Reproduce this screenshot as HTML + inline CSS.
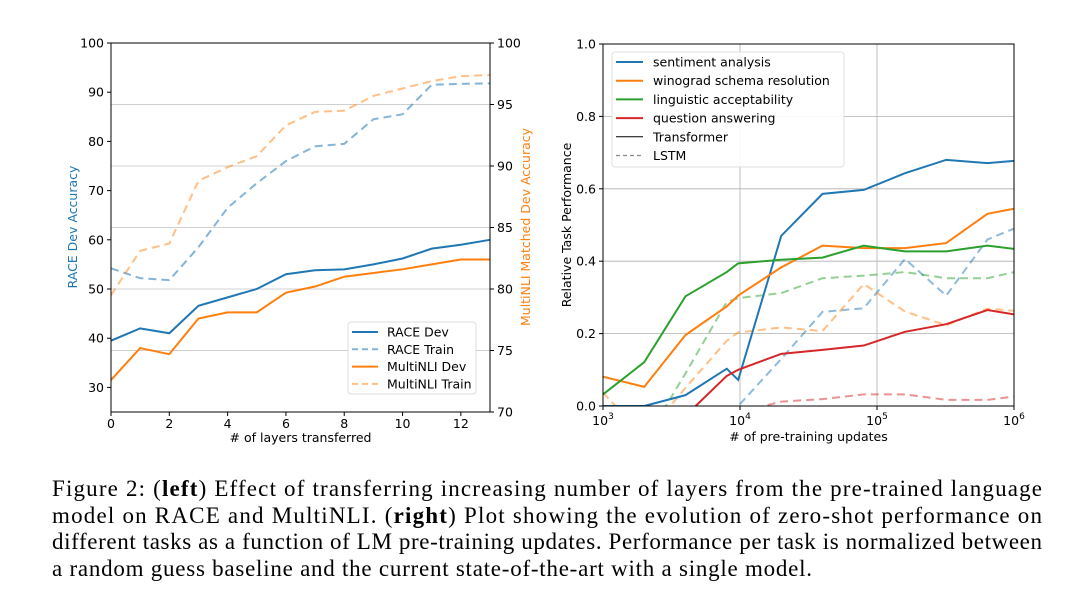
<!DOCTYPE html>
<html><head><meta charset="utf-8"><style>
body{margin:0;background:#fff;}
svg text{font-family:"DejaVu Sans","Liberation Sans",sans-serif;}
.cap{font-family:"Liberation Serif",serif !important;font-size:23px;fill:#000;}
</style></head><body>
<svg id="fig" width="1074" height="596" xmlns="http://www.w3.org/2000/svg">
<g id="left"></g>
<g id="right"></g>
<g>
<text class="cap" x="52" y="496" textLength="990" lengthAdjust="spacing">Figure 2: (<tspan font-weight="bold">left</tspan>) Effect of transferring increasing number of layers from the pre-trained language</text>
<text class="cap" x="52" y="523" textLength="990" lengthAdjust="spacing">model on RACE and MultiNLI. (<tspan font-weight="bold">right</tspan>) Plot showing the evolution of zero-shot performance on</text>
<text class="cap" x="52" y="549" textLength="990" lengthAdjust="spacing">different tasks as a function of LM pre-training updates. Performance per task is normalized between</text>
<text class="cap" x="52" y="576" textLength="760" lengthAdjust="spacing">a random guess baseline and the current state-of-the-art with a single model.</text>
</g>
</svg>
<script>
// ---- left chart data ----
const layers = [0,1,2,3,4,5,6,7,8,9,10,11,12,13];
const raceDev = [39.5,42,41,46.6,48.3,50,53,53.8,54,55,56.2,58.2,59,60];
const raceTrain = [54.2,52.2,51.8,58.5,66.5,71.5,76,79,79.5,84.5,85.5,91.5,91.7,91.8];
const mnliDev = [72.6,75.2,74.7,77.6,78.1,78.1,79.7,80.2,81.0,81.3,81.6,82.0,82.4,82.4];
const mnliTrain = [79.5,83.1,83.7,88.8,89.9,90.8,93.3,94.4,94.5,95.7,96.3,96.9,97.3,97.4];
const leftTicksL = [30,40,50,60,70,80,90,100];
const leftTicksR = [70,75,80,85,90,95,100];
const leftTicksX = [0,2,4,6,8,10,12];
// ---- right chart data ----
const updates = [1000,2000,4000,8000,9700,20000,40000,80000,160000,320000,640000,1000000];
const sentT = [0,0,0.03,0.103,0.072,0.47,0.586,0.597,0.643,0.68,0.671,0.677];
const winoT = [0.081,0.053,0.196,0.275,0.305,0.383,0.443,0.436,0.436,0.45,0.531,0.545];
const lingT = [0.032,0.121,0.303,0.37,0.394,0.404,0.41,0.443,0.427,0.427,0.443,0.434];
const qaT = [-0.1,-0.06,-0.027,0.083,0.1,0.144,0.155,0.167,0.205,0.226,0.265,0.253];
const sentL = [-0.3,-0.25,-0.2,-0.05,0,0.13,0.26,0.27,0.406,0.305,0.46,0.49];
const winoL = [0.037,-0.085,0.05,0.18,0.203,0.217,0.207,0.337,0.261,0.223,0.269,0.263];
const lingL = [-0.2,-0.1,0.09,0.287,0.298,0.312,0.353,0.36,0.37,0.353,0.353,0.37];
const qaL = [-0.1,-0.08,-0.06,-0.03,-0.0175,0.012,0.019,0.032,0.032,0.017,0.017,0.026];
const rightTicksY = [0,0.2,0.4,0.6,0.8,1.0];
const rightTicksX = [3,4,5,6];

const NS='http://www.w3.org/2000/svg';
function mk(parent,tag,attrs,txt){const e=document.createElementNS(NS,tag);for(const k in attrs)e.setAttribute(k,attrs[k]);if(txt!==undefined)e.textContent=txt;parent.appendChild(e);return e;}

// left chart
(function(){
const g=document.getElementById('left');
const X0=111,X1=490,Y0=412,Y1=43;
const xs=v=>X0+(v-0)/(13-0)*(X1-X0);
const yl=v=>Y0-(v-25)/(100-25)*(Y0-Y1);
const yr=v=>Y0-(v-70)/(100-70)*(Y0-Y1);
leftTicksR.forEach(t=>{if(t>70&&t<100){const l=mk(g,'line',{x1:X0,x2:X1,y1:yr(t),y2:yr(t),stroke:'#d0d0d0','stroke-width':1});

}});
function series(vals,ys,color,dash,op,name){const p=mk(g,'polyline',{points:vals.map((v,i)=>xs(layers[i])+','+ys(v)).join(' '),fill:'none',stroke:color,'stroke-width':2,'stroke-dasharray':dash,opacity:op});

}
series(raceTrain,yl,'#1f77b4','8,5',0.55,'race-train-line');
series(mnliTrain,yr,'#ff7f0e','8,5',0.5,'multinli-train-line');
series(raceDev,yl,'#1f77b4','',1,'race-dev-line');
series(mnliDev,yr,'#ff7f0e','',1,'multinli-dev-line');
mk(g,'rect',{x:X0,y:Y1,width:X1-X0,height:Y0-Y1,fill:'none',stroke:'#000','stroke-width':1});
leftTicksL.forEach(t=>{mk(g,'line',{x1:X0-4,x2:X0,y1:yl(t),y2:yl(t),stroke:'#000'});const e=mk(g,'text',{x:X0-7,y:yl(t)+4.5,'text-anchor':'end','font-size':12.5},t);

});
leftTicksR.forEach(t=>{mk(g,'line',{x1:X1,x2:X1+4,y1:yr(t),y2:yr(t),stroke:'#000'});const e=mk(g,'text',{x:X1+7,y:yr(t)+4.5,'font-size':12.5},t);

});
leftTicksX.forEach(t=>{mk(g,'line',{x1:xs(t),x2:xs(t),y1:Y0,y2:Y0+4,stroke:'#000'});const e=mk(g,'text',{x:xs(t),y:Y0+16,'text-anchor':'middle','font-size':12.5},t);

});
let e=mk(g,'text',{x:(X0+X1)/2,y:442,'text-anchor':'middle','font-size':12.5},'# of layers transferred');


e=mk(g,'text',{x:0,y:0,'text-anchor':'middle','font-size':12.5,fill:'#1f77b4',transform:'translate(77,227) rotate(-90)'},'RACE Dev Accuracy');


e=mk(g,'text',{x:0,y:0,'text-anchor':'middle','font-size':12.5,fill:'#ff7f0e',transform:'translate(530,227) rotate(-90)'},'MultiNLI Matched Dev Accuracy');


const lg=mk(g,'g',{});


mk(lg,'rect',{x:348,y:322,width:128,height:72,rx:3,fill:'#fff',stroke:'#ddd'});
[['RACE Dev','#1f77b4','',1],['RACE Train','#1f77b4','6,4',0.55],['MultiNLI Dev','#ff7f0e','',1],['MultiNLI Train','#ff7f0e','6,4',0.5]].forEach((d,i)=>{const y=332+i*17.3;
mk(lg,'line',{x1:352,x2:378,y1:y,y2:y,stroke:d[1],'stroke-width':2,'stroke-dasharray':d[2],opacity:d[3]});
const t=mk(lg,'text',{x:387,y:y+4.5,'font-size':12.5},d[0]);

});
})();

// right chart
(function(){
const g=document.getElementById('right');
const X0=603,X1=1014,Y0=406,Y1=44;
const xs=v=>X0+(Math.log10(v)-3)/3*(X1-X0);
const ys=v=>Y0-v*(Y0-Y1);
mk(g,'defs',{}).innerHTML='<clipPath id="rc"><rect x="'+X0+'" y="'+Y1+'" width="'+(X1-X0)+'" height="'+(Y0-Y1)+'"/></clipPath>';
rightTicksY.forEach(t=>{const l=mk(g,'line',{x1:X0,x2:X1,y1:ys(t),y2:ys(t),stroke:'#b0b0b0','stroke-width':0.8});

});
rightTicksX.forEach(t=>{const l=mk(g,'line',{x1:xs(Math.pow(10,t)),x2:xs(Math.pow(10,t)),y1:Y0,y2:Y1,stroke:'#b0b0b0','stroke-width':0.8});

});
const cg=mk(g,'g',{'clip-path':'url(#rc)'});
function series(vals,color,dash,op,name){const p=mk(cg,'polyline',{points:vals.map((v,i)=>xs(updates[i])+','+ys(v)).join(' '),fill:'none',stroke:color,'stroke-width':2,'stroke-dasharray':dash,opacity:op});

}
series(sentL,'#1f77b4','8,5',0.5,'sentiment-lstm-line');
series(winoL,'#ff7f0e','8,5',0.5,'winograd-lstm-line');
series(lingL,'#2ca02c','8,5',0.5,'linguistic-lstm-line');
series(qaL,'#d62728','8,5',0.5,'qa-lstm-line');
series(sentT,'#1f77b4','',1,'sentiment-transformer-line');
series(winoT,'#ff7f0e','',1,'winograd-transformer-line');
series(lingT,'#2ca02c','',1,'linguistic-transformer-line');
series(qaT,'#d62728','',1,'qa-transformer-line');
mk(g,'rect',{x:X0,y:Y1,width:X1-X0,height:Y0-Y1,fill:'none',stroke:'#000','stroke-width':1});
rightTicksY.forEach(t=>{mk(g,'line',{x1:X0-4,x2:X0,y1:ys(t),y2:ys(t),stroke:'#000'});const e=mk(g,'text',{x:X0-7,y:ys(t)+4.5,'text-anchor':'end','font-size':12.5},t.toFixed(1));

});
rightTicksX.forEach(t=>{const x=xs(Math.pow(10,t));mk(g,'line',{x1:x,x2:x,y1:Y0,y2:Y0+4,stroke:'#000'});const e=mk(g,'text',{x:x,y:Y0+19,'text-anchor':'middle','font-size':12.5});e.innerHTML='10<tspan dy="-6" font-size="9">'+t+'</tspan>';

});
let e=mk(g,'text',{x:(X0+X1)/2,y:441,'text-anchor':'middle','font-size':12.5},'# of pre-training updates');


e=mk(g,'text',{x:0,y:0,'text-anchor':'middle','font-size':12.5,transform:'translate(571,225) rotate(-90)'},'Relative Task Performance');


const lg=mk(g,'g',{});


mk(lg,'rect',{x:612,y:52,width:232,height:115,rx:3,fill:'#fff',stroke:'#ddd',opacity:0.9});
[['sentiment analysis','#1f77b4','',2],['winograd schema resolution','#ff7f0e','',2],['linguistic acceptability','#2ca02c','',2],['question answering','#d62728','',2],['Transformer','#000','',1],['LSTM','#888','4,3',1.3]].forEach((d,i)=>{const y=62+i*18.7;
mk(lg,'line',{x1:616,x2:643,y1:y,y2:y,stroke:d[1],'stroke-width':d[3],'stroke-dasharray':d[2]});
const t=mk(lg,'text',{x:653,y:y+4.5,'font-size':12.5},d[0]);

});
})();
</script>
</body></html>
